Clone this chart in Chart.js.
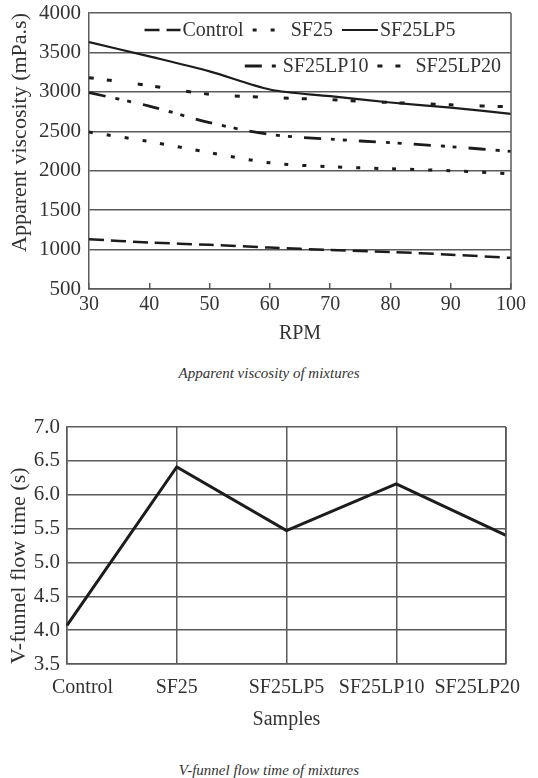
<!DOCTYPE html>
<html>
<head>
<meta charset="utf-8">
<script src="https://cdn.jsdelivr.net/npm/chart.js@4.4.1/dist/chart.umd.min.js"></script>
<style>
  html, body { margin: 0; padding: 0; background: #fff; }
  body { width: 538px; height: 778px; position: relative; overflow: hidden; }
  .box { position: absolute; left: 0; width: 538px; }
  .caption {
    position: absolute; left: 0; width: 538px; text-align: center;
    font-family: "Liberation Serif", serif; font-style: italic; font-size: 15px; color: #333;
  }
</style>
</head>
<body>
<div class="box" style="top:0;height:350px"><canvas id="viscosityChart"></canvas></div>
<div class="caption" style="top:365px">Apparent viscosity of mixtures</div>
<div class="box" style="top:400px;height:340px"><canvas id="funnelChart"></canvas></div>
<div class="caption" style="top:762px">V-funnel flow time of mixtures</div>

<script>
/* -------------------------------
   Data
--------------------------------*/
const rpm = [30, 40, 50, 60, 70, 80, 90, 100];

const controlVisc = [1130, 1090, 1060, 1025, 995, 970, 935, 895];
const sf25Visc = [2490, 2370, 2230, 2100, 2050, 2025, 2000, 1960];
const sf25lp5Visc = [3630, 3450, 3260, 3030, 2945, 2865, 2800, 2720];
const sf25lp10Visc = [2990, 2820, 2610, 2460, 2400, 2355, 2305, 2245];
const sf25lp20Visc = [3180, 3080, 2970, 2930, 2900, 2865, 2835, 2810];

const samples = ["Control", "SF25", "SF25LP5", "SF25LP10", "SF25LP20"];
const flowTime = [4.07, 6.41, 5.47, 6.16, 5.40];

const viscosityTicks = [500, 1000, 1500, 2000, 2500, 3000, 3500, 4000];
const flowTicks = [3.5, 4.0, 4.5, 5.0, 5.5, 6.0, 6.5, 7.0];

/* -------------------------------
   Shared styling
--------------------------------*/
const INK = "#1c1c1c";
const GRID = "#5a5a5a";
const TEXT = "#333";
const SERIF = "'Liberation Serif', serif";

Chart.defaults.font.family = SERIF;
Chart.defaults.font.size = 20;
Chart.defaults.color = TEXT;

function series(label, values, dash, width) {
  return {
    label: label,
    data: rpm.map((x, i) => ({ x: x, y: values[i] })),
    borderColor: INK,
    borderWidth: width,
    borderDash: dash,
    pointRadius: 0,
    tension: 0.3,
    fill: false
  };
}

// fixed axis box so the plot area sits where the figure has it
function fixAxis(size) {
  return s => {
    if (s.isHorizontal()) s.height = size; else s.width = size;
    s.paddingTop = 0;
    s.paddingBottom = 0;
  };
}

// right edge of the plot frame
const frameRight = {
  id: "frameRight",
  afterDatasetsDraw(chart) {
    const { ctx, chartArea } = chart;
    ctx.save();
    ctx.strokeStyle = GRID;
    ctx.lineWidth = 1.5;
    ctx.beginPath();
    ctx.moveTo(chartArea.right, chartArea.top);
    ctx.lineTo(chartArea.right, chartArea.bottom);
    ctx.stroke();
    ctx.restore();
  }
};

// legend inside the plot: two rows, first centred, second right-aligned
const insideLegend = {
  id: "insideLegend",
  afterDraw(chart) {
    const { ctx, chartArea } = chart;
    const sets = chart.data.datasets;
    const rows = [[0, 1, 2], [3, 4]];
    const lineLen = 38;
    const gap = 9;
    ctx.save();
    ctx.font = "20px " + SERIF;
    ctx.textBaseline = "middle";
    rows.forEach((row, r) => {
      const widths = row.map(i => lineLen + ctx.measureText(sets[i].label).width);
      const total = widths.reduce((a, b) => a + b, 0) + gap * (row.length - 1);
      let x = r === 0
        ? (chartArea.left + chartArea.right - total) / 2
        : chartArea.right - 10 - total;
      const y = chartArea.top + 17 + r * 36;
      row.forEach((i, k) => {
        const ds = sets[i];
        ctx.strokeStyle = INK;
        ctx.lineWidth = ds.borderWidth;
        ctx.setLineDash(ds.borderDash);
        ctx.beginPath();
        ctx.moveTo(x, y);
        ctx.lineTo(x + lineLen - 2, y);
        ctx.stroke();
        ctx.setLineDash([]);
        ctx.fillStyle = TEXT;
        ctx.fillText(ds.label, x + lineLen, y + 1);
        x += widths[k] + gap;
      });
    });
    ctx.restore();
  }
};

// category labels kept inside the canvas without overlapping
const sampleLabels = {
  id: "sampleLabels",
  afterDraw(chart) {
    const { ctx, chartArea } = chart;
    const xs = chart.scales.x;
    const n = samples.length;
    ctx.save();
    ctx.font = "20px " + SERIF;
    ctx.fillStyle = TEXT;
    ctx.textBaseline = "middle";
    const widths = samples.map(s => ctx.measureText(s).width);
    const lefts = samples.map((s, i) => xs.getPixelForValue(i) - widths[i] / 2);
    lefts[0] = Math.max(lefts[0], chartArea.left - 15);
    lefts[n - 1] = Math.min(lefts[n - 1], chart.width - 18 - widths[n - 1]);
    for (let i = n - 2; i >= 0; i--) {
      lefts[i] = Math.min(lefts[i], lefts[i + 1] - 10 - widths[i]);
    }
    samples.forEach((s, i) => ctx.fillText(s, lefts[i], chartArea.bottom + 24));
    ctx.restore();
  }
};

/* -------------------------------
   Apparent viscosity chart
--------------------------------*/
function renderViscosityChart() {
  const ctx = document.getElementById("viscosityChart");

  new Chart(ctx, {
    type: "line",
    data: {
      datasets: [
        series("Control", controlVisc, [15, 7], 2.5),
        series("SF25", sf25Visc, [4, 14], 3),
        series("SF25LP5", sf25lp5Visc, [], 2.2),
        series("SF25LP10", sf25lp10Visc, [17, 10, 4, 8, 4, 12], 2.8),
        series("SF25LP20", sf25lp20Visc, [5, 13, 5, 26], 3)
      ]
    },
    options: {
      responsive: true,
      maintainAspectRatio: false,
      animation: false,
      layout: { padding: { top: 13, right: 27, left: 0, bottom: 0 } },
      plugins: { legend: { display: false }, tooltip: { enabled: false } },
      scales: {
        x: {
          type: "linear",
          min: 30,
          max: 100,
          afterBuildTicks: s => { s.ticks = rpm.map(v => ({ value: v })); },
          afterFit: fixAxis(61),
          grid: { drawOnChartArea: false, drawTicks: true, tickLength: -6, color: GRID, lineWidth: 1.5 },
          border: { color: GRID, width: 1.5 },
          ticks: { padding: 10, maxRotation: 0, callback: v => String(v) },
          title: { display: true, text: "RPM", padding: { top: 2, bottom: 4 } }
        },
        y: {
          min: 500,
          max: 4000,
          afterBuildTicks: s => { s.ticks = viscosityTicks.map(v => ({ value: v })); },
          afterFit: fixAxis(89),
          grid: { color: GRID, lineWidth: 1.5, drawTicks: false },
          border: { color: GRID, width: 1.5 },
          ticks: { padding: 8, font: { size: 21 }, callback: v => String(v) },
          title: {
            display: true,
            text: "Apparent viscosity (mPa.s)",
            align: "end",
            font: { size: 22 },
            padding: { top: 7, bottom: 0 }
          }
        }
      }
    },
    plugins: [frameRight, insideLegend]
  });
}

/* -------------------------------
   V-funnel flow time chart
--------------------------------*/
function renderFunnelChart() {
  const ctx = document.getElementById("funnelChart");

  new Chart(ctx, {
    type: "line",
    data: {
      labels: samples,
      datasets: [
        {
          label: "V-funnel flow time",
          data: flowTime,
          borderColor: INK,
          borderWidth: 3,
          pointRadius: 0,
          tension: 0,
          fill: false
        }
      ]
    },
    options: {
      responsive: true,
      maintainAspectRatio: false,
      animation: false,
      layout: { padding: { top: 27, right: 32, left: 0, bottom: 0 } },
      plugins: { legend: { display: false }, tooltip: { enabled: false } },
      scales: {
        x: {
          offset: false,
          afterFit: fixAxis(76),
          grid: { color: GRID, lineWidth: 1.5, drawTicks: false },
          border: { color: GRID, width: 1.5 },
          ticks: { display: false },
          title: { display: true, text: "Samples", padding: { top: 2, bottom: 8 } }
        },
        y: {
          min: 3.5,
          max: 7.0,
          afterBuildTicks: s => { s.ticks = flowTicks.map(v => ({ value: v })); },
          afterFit: fixAxis(67),
          grid: { color: GRID, lineWidth: 1.5, drawTicks: false },
          border: { color: GRID, width: 1.5 },
          ticks: { padding: 7, font: { size: 21 }, callback: v => v.toFixed(1) },
          title: {
            display: true,
            text: "V-funnel flow time (s)",
            align: "start",
            font: { size: 22 },
            padding: { top: 6, bottom: 0 }
          }
        }
      }
    },
    plugins: [frameRight, sampleLabels]
  });
}

// canvas text needs the serif face loaded before drawing
document.fonts.load("20px 'Liberation Serif'").then(() => {
  renderViscosityChart();
  renderFunnelChart();
});
</script>
</body>
</html>
